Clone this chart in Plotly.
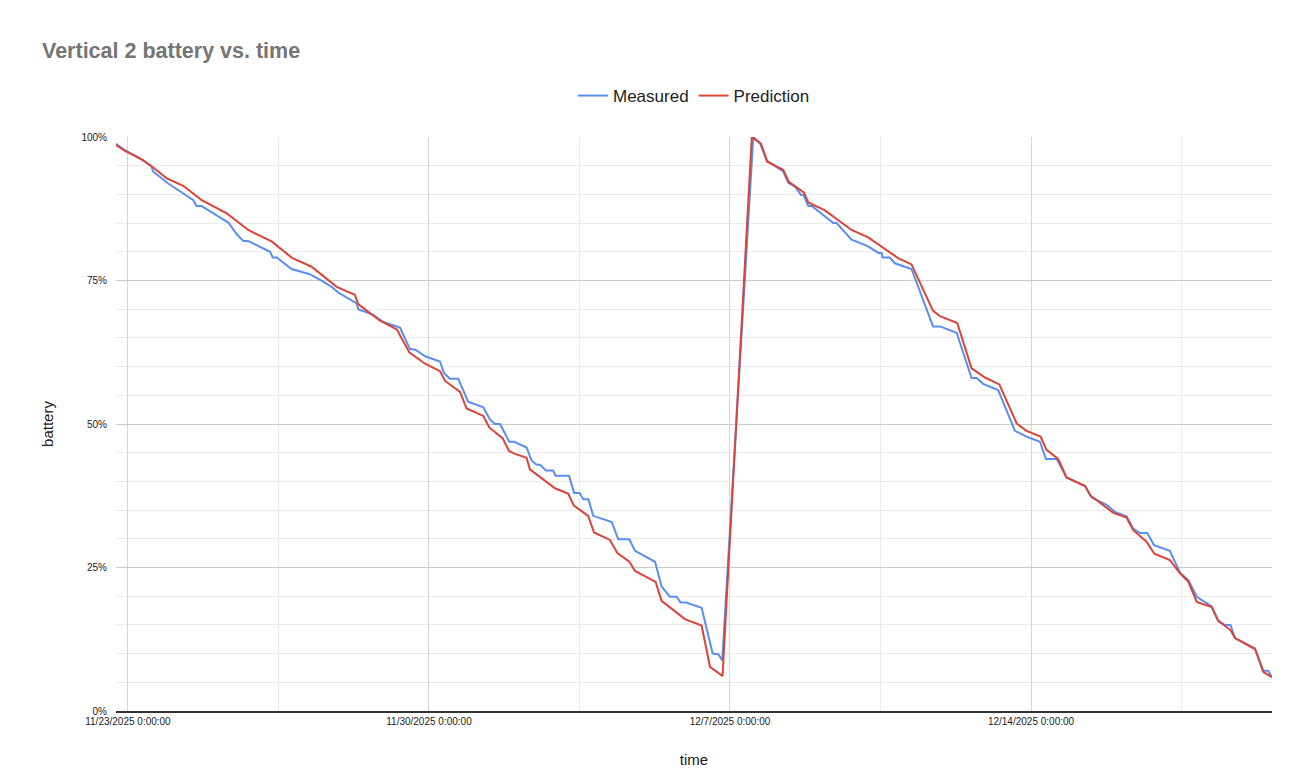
import plotly.graph_objects as go

# Measured battery readings
measured_time = [
    "2025-11-22 17:20", "2025-11-22 22:20", "2025-11-23 07:40", "2025-11-23 13:10", "2025-11-23 14:00",
    "2025-11-23 22:30", "2025-11-24 12:30", "2025-11-24 14:20", "2025-11-24 17:00", "2025-11-25 08:00",
    "2025-11-25 12:40", "2025-11-25 16:20", "2025-11-25 19:00", "2025-11-26 07:20", "2025-11-26 08:50",
    "2025-11-26 11:00", "2025-11-26 19:20", "2025-11-27 05:30", "2025-11-27 13:00", "2025-11-27 17:40",
    "2025-11-27 21:20", "2025-11-28 07:40", "2025-11-28 08:30", "2025-11-28 16:50", "2025-11-28 22:30",
    "2025-11-29 07:50", "2025-11-29 13:20", "2025-11-29 16:40", "2025-11-29 21:50", "2025-11-30 06:10",
    "2025-11-30 08:20", "2025-11-30 11:40", "2025-11-30 16:20", "2025-11-30 21:50", "2025-12-01 06:20",
    "2025-12-01 10:00", "2025-12-01 12:50", "2025-12-01 15:40", "2025-12-01 20:50", "2025-12-01 23:30",
    "2025-12-02 06:30", "2025-12-02 09:20", "2025-12-02 12:10", "2025-12-02 14:00", "2025-12-02 17:20",
    "2025-12-02 21:20", "2025-12-02 22:40", "2025-12-03 06:10", "2025-12-03 09:00", "2025-12-03 12:00",
    "2025-12-03 14:10", "2025-12-03 17:00", "2025-12-03 19:40", "2025-12-04 06:00", "2025-12-04 09:40",
    "2025-12-04 15:50", "2025-12-04 19:00", "2025-12-05 06:10", "2025-12-05 09:50", "2025-12-05 14:30",
    "2025-12-05 18:10", "2025-12-05 20:30", "2025-12-05 23:30", "2025-12-06 08:10", "2025-12-06 14:20",
    "2025-12-06 17:30", "2025-12-06 19:40", "2025-12-07 13:00", "2025-12-07 16:40", "2025-12-07 20:30",
    "2025-12-08 05:40", "2025-12-08 08:30", "2025-12-08 12:20", "2025-12-08 15:40", "2025-12-08 17:00",
    "2025-12-08 19:40", "2025-12-08 21:40", "2025-12-09 09:40", "2025-12-09 11:30", "2025-12-09 19:50",
    "2025-12-10 04:50", "2025-12-10 10:50", "2025-12-10 12:40", "2025-12-10 13:10", "2025-12-10 17:10",
    "2025-12-10 20:00", "2025-12-11 05:20", "2025-12-11 17:20", "2025-12-11 21:10", "2025-12-12 06:30",
    "2025-12-12 14:50", "2025-12-12 17:40", "2025-12-12 21:20", "2025-12-13 05:40", "2025-12-13 15:00",
    "2025-12-13 21:30", "2025-12-14 05:00", "2025-12-14 08:20", "2025-12-14 14:20", "2025-12-14 16:10",
    "2025-12-14 19:50", "2025-12-15 06:10", "2025-12-15 09:50", "2025-12-15 18:10", "2025-12-15 22:50",
    "2025-12-16 05:20", "2025-12-16 09:00", "2025-12-16 12:50", "2025-12-16 16:50", "2025-12-16 20:40",
    "2025-12-17 05:30", "2025-12-17 11:10", "2025-12-17 15:50", "2025-12-17 20:30", "2025-12-18 04:50",
    "2025-12-18 08:30", "2025-12-18 12:10", "2025-12-18 15:20", "2025-12-18 17:50", "2025-12-19 05:00",
    "2025-12-19 09:40", "2025-12-19 12:20", "2025-12-19 14:30",
]
measured_pct = [
    98.8, 97.7, 96.1, 94.9, 94.0, 91.9, 89.0, 88.0, 88.0, 85.1,
    83.1, 81.9, 81.9, 80.0, 79.0, 79.0, 77.0, 76.1, 74.8, 73.9,
    72.9, 71.0, 70.0, 69.0, 67.8, 66.8, 63.1, 62.9, 61.8, 60.9,
    58.9, 57.9, 57.9, 53.9, 52.9, 50.8, 50.0, 50.0, 46.9, 46.9,
    45.9, 43.6, 42.9, 42.9, 41.9, 41.9, 41.0, 41.0, 38.0, 38.0,
    36.9, 36.9, 34.0, 32.9, 29.9, 29.9, 27.9, 26.0, 21.7, 19.9,
    19.9, 18.9, 18.9, 18.0, 10.0, 9.9, 8.8, 100.0, 99.0, 95.9,
    94.0, 92.0, 91.3, 89.9, 89.9, 88.0, 88.0, 85.0, 85.0, 82.1,
    81.0, 79.8, 79.8, 79.0, 79.0, 78.0, 77.0, 67.0, 67.0, 65.9,
    58.0, 58.0, 57.0, 55.9, 48.8, 47.8, 46.9, 43.9, 43.9, 42.9,
    40.7, 39.2, 37.2, 35.9, 34.7, 33.9, 31.8, 31.0, 31.0, 28.9,
    27.9, 24.1, 22.8, 19.9, 18.2, 15.7, 15.0, 15.0, 12.7, 10.9,
    7.0, 7.0, 5.9,
]

# Model prediction
prediction_time = [
    "2025-11-22 17:20", "2025-11-22 22:20", "2025-11-23 07:40", "2025-11-23 13:10", "2025-11-23 21:40",
    "2025-11-24 06:50", "2025-11-24 17:10", "2025-11-25 07:10", "2025-11-25 19:10", "2025-11-26 08:10",
    "2025-11-26 19:20", "2025-11-27 06:30", "2025-11-27 20:30", "2025-11-28 06:40", "2025-11-28 08:30",
    "2025-11-28 20:40", "2025-11-29 06:00", "2025-11-29 13:00", "2025-11-29 21:50", "2025-11-30 06:10",
    "2025-11-30 09:00", "2025-11-30 17:20", "2025-11-30 21:00", "2025-12-01 06:20", "2025-12-01 09:40",
    "2025-12-01 17:10", "2025-12-01 20:40", "2025-12-02 00:00", "2025-12-02 06:30", "2025-12-02 08:20",
    "2025-12-02 22:20", "2025-12-03 05:40", "2025-12-03 08:50", "2025-12-03 16:50", "2025-12-03 20:10",
    "2025-12-04 05:00", "2025-12-04 09:10", "2025-12-04 15:50", "2025-12-04 19:00", "2025-12-05 06:30",
    "2025-12-05 09:50", "2025-12-05 22:50", "2025-12-06 08:10", "2025-12-06 12:50", "2025-12-06 19:50",
    "2025-12-07 12:10", "2025-12-07 17:20", "2025-12-07 20:50", "2025-12-08 05:40", "2025-12-08 08:50",
    "2025-12-08 17:20", "2025-12-08 19:40", "2025-12-09 05:00", "2025-12-09 19:50", "2025-12-10 05:10",
    "2025-12-10 21:50", "2025-12-11 05:20", "2025-12-11 17:20", "2025-12-11 21:10", "2025-12-12 06:50",
    "2025-12-12 14:50", "2025-12-12 22:20", "2025-12-13 06:20", "2025-12-13 16:00", "2025-12-13 21:30",
    "2025-12-14 05:20", "2025-12-14 08:40", "2025-12-14 15:10", "2025-12-14 19:50", "2025-12-15 06:10",
    "2025-12-15 09:00", "2025-12-15 22:00", "2025-12-16 05:20", "2025-12-16 09:00", "2025-12-16 16:30",
    "2025-12-16 20:50", "2025-12-17 05:30", "2025-12-17 11:10", "2025-12-17 15:50", "2025-12-17 20:30",
    "2025-12-18 04:50", "2025-12-18 08:30", "2025-12-18 15:20", "2025-12-18 17:50", "2025-12-19 05:00",
    "2025-12-19 09:40", "2025-12-19 14:30",
]
prediction_pct = [
    98.6, 97.6, 96.1, 94.9, 92.8, 91.5, 89.0, 86.7, 83.8, 81.8,
    79.0, 77.4, 73.9, 72.5, 70.9, 68.0, 66.5, 62.5, 60.5, 59.2,
    57.5, 55.6, 52.7, 51.4, 49.4, 47.5, 45.3, 44.8, 44.1, 42.1,
    38.8, 37.9, 35.8, 34.0, 31.1, 29.8, 27.5, 26.0, 24.4, 22.5,
    19.2, 16.0, 14.9, 7.7, 6.1, 100.0, 98.8, 95.7, 94.3, 92.2,
    90.3, 88.6, 87.2, 83.8, 82.5, 78.9, 77.8, 69.7, 68.8, 67.6,
    59.7, 58.1, 56.9, 50.1, 48.8, 47.8, 45.5, 43.9, 40.7, 39.2,
    37.6, 34.5, 33.7, 31.5, 29.5, 27.4, 26.3, 24.0, 22.5, 19.0,
    18.1, 15.7, 14.1, 12.7, 10.8, 6.8, 5.9,
]

WEEK_MS = 7 * 24 * 3600 * 1000

fig = go.Figure()

fig.add_trace(go.Scatter(
    x=measured_time, y=measured_pct,
    mode="lines", name="Measured",
    line=dict(color="#5a8ef2", width=2),
))
fig.add_trace(go.Scatter(
    x=prediction_time, y=prediction_pct,
    mode="lines", name="Prediction",
    line=dict(color="#db4437", width=2),
))

# the page has an 8px body margin, so the margins are pulled in by 8px
fig.update_layout(
    width=1311, height=776,
    paper_bgcolor="white", plot_bgcolor="white",
    font=dict(family="Arial, Liberation Sans, sans-serif", color="#222222"),
    margin=dict(l=108, r=47, t=129, b=73),
    title=dict(text="<b>Vertical 2 battery vs. time</b>",
               x=34 / 1311, xanchor="left", y=1 - 42 / 776, yanchor="middle",
               font=dict(size=21.5, color="#757575")),
    legend=dict(orientation="h", x=0.5, xanchor="center", y=1 + 41 / 574, yanchor="middle",
                font=dict(size=17, color="#222222"), itemwidth=30, bgcolor="rgba(0,0,0,0)"),
    showlegend=True,
    xaxis=dict(
        type="date",
        range=["2025-11-22 17:20", "2025-12-19 14:30"],
        tick0="2025-11-23", dtick=WEEK_MS,
        tickformat="%-m/%-d/%Y %-H:%M:%S",
        tickfont=dict(size=10, color="#222222"),
        showgrid=True, gridcolor="#d6d6d6", gridwidth=1,
        minor=dict(tick0="2025-11-23", dtick=WEEK_MS / 2, showgrid=True, gridcolor="#ececec"),
        showline=True, linecolor="#333333", linewidth=1.5,
        ticks="", zeroline=False,
        title=dict(text="time", font=dict(size=15, color="#222222"), standoff=29),
    ),
    yaxis=dict(
        range=[0, 100], dtick=25, ticksuffix="%",
        tickfont=dict(size=10, color="#222222"),
        showgrid=True, gridcolor="#cccccc", gridwidth=1,
        minor=dict(dtick=5, showgrid=True, gridcolor="#ebebeb"),
        zeroline=False, ticks="outside", ticklen=6, tickcolor="white",
        title=dict(text="battery", font=dict(size=15, color="#222222"), standoff=24),
    ),
)

fig.write_html("out.html")
